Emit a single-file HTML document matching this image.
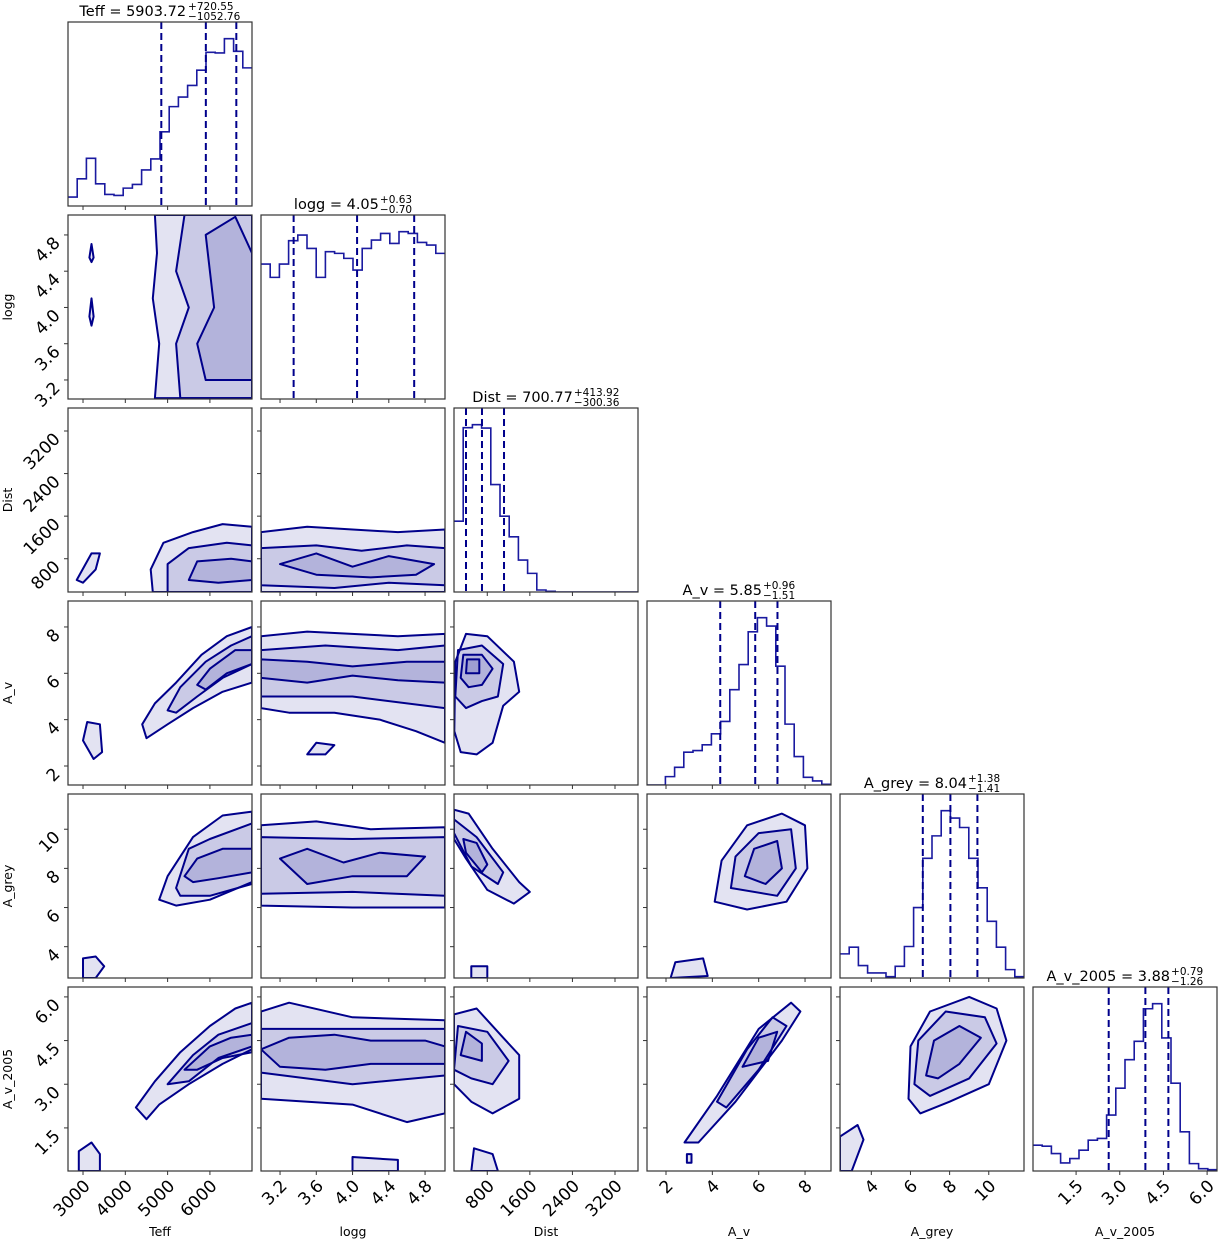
<!DOCTYPE html>
<html><head><meta charset="utf-8">
<style>
html,body{margin:0;padding:0;background:#fff;}
svg{display:block;font-family:"DejaVu Sans","Liberation Sans",sans-serif;}
</style></head>
<body>
<svg id="chart" width="1220" height="1240" viewBox="0 0 1220 1240" xmlns="http://www.w3.org/2000/svg"></svg>
<script>
// ---- parameters ----
const paramNames = ["Teff","logg","Dist","A_v","A_grey","A_v_2005"];
const paramMin = [2645, 2.99, 175, 1.18, 2.4, 0.02];
const paramMax = [6995, 5.02, 3632, 9.12, 11.8, 6.34];
const tickTeff = [3000,4000,5000,6000];
const tickLogg = [3.2,3.6,4.0,4.4,4.8];
const tickDist = [800,1600,2400,3200];
const tickAv = [2,4,6,8];
const tickAgrey = [4,6,8,10];
const tickAv2005 = [1.5,3.0,4.5,6.0];
const tickText = [["3000","4000","5000","6000"],["3.2","3.6","4.0","4.4","4.8"],["800","1600","2400","3200"],["2","4","6","8"],["4","6","8","10"],["1.5","3.0","4.5","6.0"]];
// ---- histograms (20 bins each, relative counts) ----
const histTeff = [27,82,144,67,35,32,54,65,109,142,224,300,329,364,410,464,462,505,467,417];
const histLogg = [405,365,405,475,492,452,365,442,437,422,387,452,477,497,467,502,497,470,462,437];
const histDist = [213,494,503,493,323,228,166,96,56,6,2,0,0,0,0,0,0,0,0,0];
const histAv = [0,0,25,53,98,103,120,153,190,285,360,458,500,475,355,182,85,23,12,2];
const histAgrey = [72,92,37,15,15,4,35,94,210,357,424,499,477,449,357,269,169,92,25,4];
const histAv2005 = [77,74,52,24,37,62,92,97,167,247,332,387,484,499,397,262,117,22,7,4];
// ---- quantiles: median, -err, +err ----
const qMedian = [5903.72, 4.05, 700.77, 5.85, 8.04, 3.88];
const qMinus = [1052.76, 0.70, 300.36, 1.51, 1.41, 1.26];
const qPlus = [720.55, 0.63, 413.92, 0.96, 1.38, 0.79];
const medianText = ["5903.72","4.05","700.77","5.85","8.04","3.88"];
const minusText = ["1052.76","0.70","300.36","1.51","1.41","1.26"];
const plusText = ["720.55","0.63","413.92","0.96","1.38","0.79"];
// ---- 2D contours (data coords), key "row-col" ----
const contours = {
 "1-0":[[[4700,3.0],[4800,3.6],[4650,4.1],[4750,4.6],[4700,5.02],[6995,5.02],[6995,3.0]],
        [[5300,3.0],[5200,3.6],[5500,4.0],[5200,4.4],[5400,5.02],[6995,5.02],[6995,3.0]],
        [[5900,3.2],[5700,3.6],[6100,4.0],[5900,4.8],[6600,5.0],[6995,4.6],[6995,3.2]],
        [[3150,3.9],[3200,4.1],[3250,3.9],[3200,3.8]],[[3150,4.55],[3200,4.7],[3250,4.55],[3200,4.5]]],
 "2-0":[[[4650,175],[4600,600],[4900,1100],[5600,1300],[6300,1450],[6995,1400],[6995,175]],
        [[5000,175],[5000,700],[5500,1000],[6400,1100],[6995,1050],[6995,175]],
        [[5500,400],[5700,750],[6500,800],[6995,750],[6995,400],[6200,350]],
        [[2850,400],[3200,900],[3400,900],[3300,600],[3000,350]]],
 "3-0":[[[4500,3.2],[4400,3.8],[4700,4.7],[5200,5.6],[5800,6.8],[6400,7.6],[6995,8.0],[6995,5.6],[6300,5.2],[5600,4.5],[5000,3.8]],
        [[5000,4.4],[5300,5.4],[5900,6.5],[6500,7.2],[6995,7.6],[6995,6.4],[6300,5.8],[5700,5.0],[5200,4.3]],
        [[5700,5.5],[6000,6.2],[6600,7.0],[6995,7.0],[6995,6.4],[6400,6.0],[5900,5.3]],
        [[3100,3.9],[3000,3.1],[3250,2.3],[3450,2.6],[3400,3.8]]],
 "4-0":[[[4800,6.4],[5000,7.6],[5600,9.6],[6300,10.7],[6995,10.9],[6995,7.3],[6000,6.4],[5200,6.1]],
        [[5200,7.0],[5500,9.0],[6000,9.5],[6995,10.3],[6995,7.2],[6000,6.6],[5300,6.6]],
        [[5400,7.6],[5700,8.5],[6300,9.0],[6995,9.0],[6995,7.8],[6200,7.5],[5600,7.3]],
        [[3000,2.4],[3000,3.4],[3300,3.5],[3500,3.0],[3300,2.4]]],
 "5-0":[[[4250,2.2],[4700,3.1],[5300,4.1],[6000,5.0],[6600,5.6],[6995,5.8],[6995,4.2],[6300,3.7],[5500,3.0],[4800,2.3],[4500,1.8]],
        [[5000,3.0],[5600,4.0],[6200,4.7],[6995,5.1],[6995,4.3],[6200,3.9],[5500,3.1]],
        [[5400,3.5],[6000,4.3],[6500,4.6],[6995,4.7],[6995,4.1],[6300,3.9],[5700,3.5]],
        [[2900,0.02],[2900,0.7],[3200,1.0],[3400,0.6],[3400,0.02]]],
 "2-1":[[[2.99,1300],[3.5,1400],[4.0,1350],[4.5,1300],[5.02,1350],[5.02,175],[2.99,175]],
        [[2.99,1000],[3.6,1050],[4.1,950],[4.6,1050],[5.02,1000],[5.02,300],[4.4,350],[3.8,250],[2.99,300]],
        [[3.2,700],[3.6,900],[4.0,650],[4.4,850],[4.9,700],[4.7,500],[4.2,450],[3.6,500]]],
 "3-1":[[[2.99,7.6],[3.5,7.8],[4.5,7.6],[5.02,7.7],[5.02,3.0],[4.7,3.5],[4.3,4.0],[3.8,4.3],[3.3,4.3],[2.99,4.5]],
        [[2.99,7.0],[3.7,7.2],[4.5,7.0],[5.02,7.2],[5.02,4.5],[4.0,5.0],[2.99,5.0]],
        [[2.99,6.6],[3.5,6.5],[4.0,6.3],[4.6,6.5],[5.02,6.5],[5.02,5.6],[4.5,5.7],[4.0,5.9],[3.5,5.6],[2.99,5.8]],
        [[3.5,2.5],[3.6,3.0],[3.8,2.9],[3.7,2.5]]],
 "4-1":[[[2.99,10.2],[3.6,10.4],[4.2,10.0],[5.02,10.1],[5.02,6.0],[4.0,6.0],[2.99,6.1]],
        [[2.99,9.6],[4.0,9.5],[5.02,9.6],[5.02,6.6],[4.0,6.8],[2.99,6.7]],
        [[3.2,8.5],[3.5,9.0],[3.9,8.3],[4.3,8.8],[4.8,8.6],[4.6,7.6],[4.0,7.6],[3.5,7.2]]],
 "5-1":[[[2.99,5.5],[3.3,5.8],[4.0,5.3],[5.02,5.2],[5.02,2.0],[4.6,1.7],[4.0,2.3],[2.99,2.5]],
        [[2.99,4.9],[4.0,4.9],[5.02,4.9],[5.02,3.3],[4.0,3.0],[2.99,3.4]],
        [[2.99,4.2],[3.3,4.6],[3.8,4.7],[4.2,4.5],[4.8,4.5],[5.02,4.3],[5.02,3.7],[4.2,3.7],[3.7,3.5],[3.2,3.6]],
        [[4.0,0.02],[4.0,0.5],[4.5,0.4],[4.5,0.02]]],
 "3-2":[[[180,3.5],[200,6.5],[400,7.7],[800,7.6],[1300,6.5],[1400,5.2],[1100,4.6],[900,3.0],[600,2.5],[300,2.6]],
        [[200,5.0],[250,7.0],[700,7.2],[1100,6.4],[1000,5.0],[700,4.8],[400,4.5]],
        [[300,5.8],[350,6.8],[700,6.8],[900,6.2],[700,5.5],[450,5.4]],
        [[400,6.0],[420,6.6],[650,6.6],[650,6.0]]],
 "4-2":[[[175,11.0],[450,10.8],[900,9.0],[1400,7.3],[1600,6.8],[1300,6.2],[800,6.9],[400,8.5],[175,9.5]],
        [[175,10.5],[600,9.6],[1100,7.8],[1000,7.2],[500,8.1],[175,9.8]],
        [[350,9.5],[600,9.3],[800,8.2],[700,7.8],[400,8.8]],
        [[500,2.4],[500,3.0],[800,3.0],[800,2.4]]],
 "5-2":[[[175,3.0],[175,5.4],[600,5.6],[1100,4.6],[1400,4.0],[1400,2.5],[900,2.0],[500,2.4]],
        [[175,3.5],[250,5.0],[800,4.8],[1200,3.8],[900,3.0],[500,3.2]],
        [[300,4.0],[400,4.8],[700,4.4],[700,3.8]],
        [[500,0.02],[550,0.8],[900,0.6],[1000,0.02]]],
 "4-3":[[[4.1,6.3],[4.4,8.4],[5.5,10.2],[7.0,10.8],[8.0,10.2],[8.1,8.0],[7.2,6.3],[5.5,5.9]],
        [[4.8,7.0],[5.0,8.6],[6.0,9.8],[7.4,10.0],[7.6,8.0],[6.8,6.6]],
        [[5.4,7.6],[5.8,9.0],[6.8,9.4],[7.0,8.0],[6.3,7.2]],
        [[2.2,2.4],[2.4,3.2],[3.6,3.4],[3.8,2.5]]],
 "5-3":[[[2.8,1.0],[4.2,2.6],[6.0,4.9],[7.4,5.8],[7.8,5.5],[7.0,4.5],[5.0,2.4],[3.4,1.0]],
        [[4.2,2.4],[5.5,4.2],[6.6,5.3],[7.2,5.0],[6.0,3.5],[4.6,2.2]],
        [[5.3,3.6],[6.0,4.6],[6.8,4.8],[6.4,3.8]],
        [[2.9,0.3],[2.9,0.6],[3.1,0.6],[3.1,0.3]]],
 "5-4":[[[5.9,2.5],[6.0,4.3],[7.0,5.5],[9.0,6.0],[10.4,5.6],[10.9,4.5],[10.0,3.0],[8.0,2.4],[6.5,2.0]],
        [[6.2,3.0],[6.4,4.5],[7.8,5.5],[9.8,5.3],[10.4,4.4],[9.0,3.2],[7.0,2.6]],
        [[6.8,3.3],[7.2,4.5],[8.5,5.0],[9.6,4.6],[8.5,3.7],[7.4,3.2]],
        [[2.4,0.02],[2.4,1.2],[3.3,1.6],[3.6,1.1],[3.0,0.02]]]
};
const ticks = [tickTeff,tickLogg,tickDist,tickAv,tickAgrey,tickAv2005];
const hists = [histTeff,histLogg,histDist,histAv,histAgrey,histAv2005];

// ---- layout ----
const colLeft = [68,261,454,647,840,1033];
const rowTop = [22,215,408,601,794,987];
const S = 184;
const NS = "http://www.w3.org/2000/svg";
const svg = document.getElementById('chart');
function el(tag, attrs, parent){
  const e = document.createElementNS(NS, tag);
  for (const k in attrs) e.setAttribute(k, attrs[k]);
  (parent||svg).appendChild(e);
  return e;
}
function sx(p, v){ return colLeft[p] + (v - paramMin[p])/(paramMax[p]-paramMin[p])*S; }
function syr(r, p, v){ return rowTop[r] + S - (v - paramMin[p])/(paramMax[p]-paramMin[p])*S; }
const navy = "#00008b";

for (let r=0;r<6;r++){
  for (let c=0;c<=r;c++){
    const x0 = colLeft[c], y0 = rowTop[r];
    const g = el('g', {});
    
    
    const clipId = 'clip'+r+'-'+c;
    const cp = el('clipPath', {id: clipId}, g);
    el('rect', {x:x0, y:y0, width:S, height:S}, cp);
    const inner = el('g', {'clip-path':'url(#'+clipId+')'}, g);
    if (r===c){
      const h = hists[c];
      const mx = Math.max(...h)*1.1;
      const n = h.length;
      let d = '';
      for (let i=0;i<n;i++){
        const xa = x0 + i*S/n, xb = x0 + (i+1)*S/n;
        const yy = y0 + S - h[i]/mx*S;
        d += (i===0 ? 'M'+xa+','+yy : 'L'+xa+','+yy) + ' L'+xb+','+yy;
      }
      const hp = el('path', {d:d, fill:'none', stroke:'#1a1aa0', 'stroke-width':1.6}, inner);
      
      
      const qs = [qMedian[c]-qMinus[c], qMedian[c], qMedian[c]+qPlus[c]];
      qs.forEach((q,qi)=>{
        const qx = sx(c,q);
        const ql = el('line', {x1:qx, x2:qx, y1:y0, y2:y0+S, stroke:navy, 'stroke-width':2, 'stroke-dasharray':'7,4'}, inner);
        
        
      });
      // title
      const t = el('text', {x:0, y:y0-6, 'font-size':14.5, fill:'#000'});
      
      
      t.textContent = paramNames[c] + ' = ' + medianText[c];
      const w1 = t.getBBox().width;
      const sp = el('text', {x:w1+1, y:y0-12, 'font-size':10.5, fill:'#000'});
      
      
      sp.textContent = '+' + plusText[c];
      const sm = el('text', {x:w1+1, y:y0-2, 'font-size':10.5, fill:'#000'});
      
      
      sm.textContent = '\u2212' + minusText[c];
      const w2 = Math.max(sp.getBBox().width, sm.getBBox().width);
      const start = x0 + S/2 - (w1 + 1 + w2)/2;
      [t,sp,sm].forEach(e=>e.setAttribute('transform','translate('+start+',0)'));
    } else {
      const polys = contours[r+'-'+c] || [];
      polys.forEach((poly, pi)=>{
        const pts = poly.map(p=> sx(c,p[0]).toFixed(1)+','+syr(r,r,p[1]).toFixed(1)).join(' ');
        const pg = el('polygon', {points:pts, fill:'rgba(0,0,139,0.11)', stroke:navy, 'stroke-width':2, 'stroke-linejoin':'round'}, inner);
        
        
      });
    }
    const fr = el('rect', {x:x0, y:y0, width:S, height:S, fill:'none', stroke:'#333', 'stroke-width':1.2}, g);
    
    
    // x ticks
    ticks[c].forEach((tv,ti)=>{
      const tx = sx(c,tv);
      el('line', {x1:tx, x2:tx, y1:y0+S, y2:y0+S+4, stroke:'#333', 'stroke-width':1}, g);
      if (r===5){
        const lab = el('text', {x:0, y:0, 'font-size':17, 'text-anchor':'end', fill:'#000', transform:'translate('+(tx+8)+','+(y0+S+16)+') rotate(-45)'}, g);
        
        
        lab.textContent = tickText[c][ti];
      }
    });
    if (r!==c){
      ticks[r].forEach((tv,ti)=>{
        const ty = syr(r,r,tv);
        el('line', {x1:x0-4, x2:x0, y1:ty, y2:ty, stroke:'#333', 'stroke-width':1}, g);
        if (c===0){
          const lab = el('text', {x:0, y:0, 'font-size':17, 'text-anchor':'end', fill:'#000', transform:'translate('+(x0-7)+','+(ty+9)+') rotate(-45)'}, g);
          
          
          lab.textContent = tickText[r][ti];
        }
      });
    }
  }
}
// axis labels
for (let i=0;i<6;i++){
  const xl = el('text', {x:colLeft[i]+S/2, y:1236, 'font-size':12.5, 'text-anchor':'middle', fill:'#000'});
  
  
  xl.textContent = paramNames[i];
  if (i>0){
    const cy = rowTop[i]+S/2;
    const yl = el('text', {x:0, y:0, 'font-size':12.5, 'text-anchor':'middle', fill:'#000', transform:'translate(12,'+cy+') rotate(-90)'});
    
    
    yl.textContent = paramNames[i];
  }
}
</script>
</body></html>
